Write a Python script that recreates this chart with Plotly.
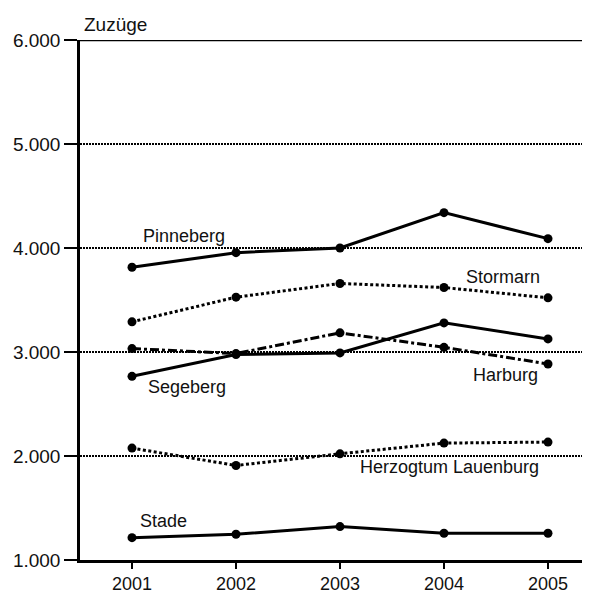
import plotly.graph_objects as go

years = [2001, 2002, 2003, 2004, 2005]

pinneberg = [3815, 3955, 4000, 4340, 4090]
stormarn = [3290, 3527, 3659, 3620, 3521]
segeberg = [2766, 2975, 2991, 3280, 3126]
harburg = [3033, 2985, 3184, 3045, 2885]
lauenburg = [2076, 1909, 2021, 2124, 2134]
stade = [1215, 1248, 1321, 1257, 1257]

y_ticks = [1000, 2000, 3000, 4000, 5000, 6000]
y_labels = ["1.000", "2.000", "3.000", "4.000", "5.000", "6.000"]

FONT = "Liberation Sans, Arial, sans-serif"

series = [
    ("Pinneberg", pinneberg, "solid"),
    ("Stormarn", stormarn, "3px,2.5px"),
    ("Segeberg", segeberg, "solid"),
    ("Harburg", harburg, "dashdot"),
    ("Herzogtum Lauenburg", lauenburg, "3px,2.5px"),
    ("Stade", stade, "solid"),
]

# label placement (data coords, left-anchored)
label_pos = {
    "Pinneberg": (2001.087, 4115),
    "Stormarn": (2004.19, 3717),
    "Segeberg": (2001.13, 2664),
    "Harburg": (2004.26, 2776),
    "Herzogtum Lauenburg": (2003.17, 1893),
    "Stade": (2001.055, 1379),
}

fig = go.Figure()
for name, vals, dash in series:
    fig.add_trace(go.Scatter(
        x=years, y=vals, name=name, mode="lines+markers",
        line=dict(color="black", width=3, dash=dash),
        marker=dict(color="black", size=9),
        showlegend=False,
    ))
    lx, ly = label_pos[name]
    fig.add_annotation(x=lx, y=ly, text=name, showarrow=False,
                       xanchor="left", yanchor="middle",
                       font=dict(size=18, color="#111"))

fig.add_annotation(x=0.004, y=1.029, xref="paper", yref="paper", text="Zuzüge",
                   showarrow=False, xanchor="left", yanchor="middle",
                   font=dict(size=19, color="#111"))

# solid top border at 6.000
fig.add_shape(type="line", xref="paper", x0=0, x1=1, yref="y", y0=6000, y1=6000,
              line=dict(color="black", width=2.5))

# page body has an 8px margin, so the figure is 8px smaller than the window
fig.update_layout(
    width=582, height=588,
    margin=dict(l=72, r=0, t=32, b=36),
    plot_bgcolor="white", paper_bgcolor="white",
    font=dict(family=FONT, size=19, color="#111"),
    xaxis=dict(
        range=[2000.5, 2005.404], tickvals=years, ticktext=[str(y) for y in years],
        tickfont=dict(size=18),
        showgrid=False, zeroline=False, automargin=False,
        showline=True, linecolor="black", linewidth=2.5,
        ticks="outside", ticklen=6, tickwidth=1.5, tickcolor="black",
    ),
    yaxis=dict(
        range=[1000, 6000], tickvals=y_ticks, ticktext=y_labels,
        showgrid=True, gridcolor="black", gridwidth=1.5, griddash="2px,1px",
        zeroline=False, automargin=False,
        showline=True, linecolor="black", linewidth=2.5,
        ticks="outside", ticklen=13, tickwidth=1.5, tickcolor="black",
    ),
)

fig.write_html("out.html")
